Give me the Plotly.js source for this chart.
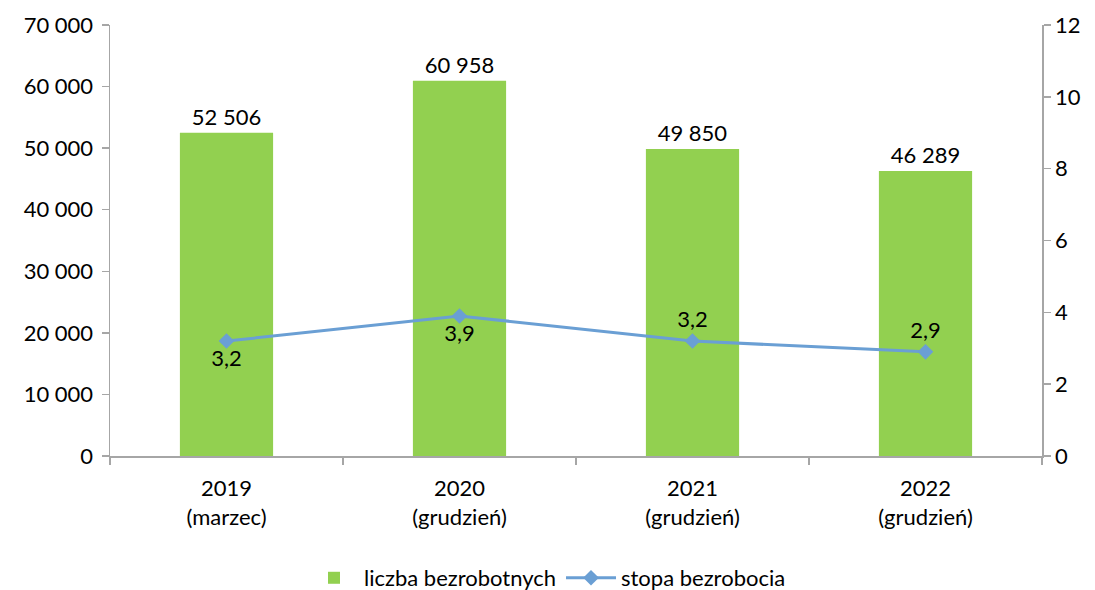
<!DOCTYPE html>
<html>
<head>
<meta charset="utf-8">
<script src="https://cdn.plot.ly/plotly-3.0.1.min.js"></script>
<style>html,body{margin:0;padding:0;background:#fff}#chart{width:1095px;height:590px}</style>
</head>
<body>
<div id="chart"></div>
<script>
const categories = ["2019<br>(marzec)", "2020<br>(grudzień)", "2021<br>(grudzień)", "2022<br>(grudzień)"];
const unemployedCount = [52506, 60958, 49850, 46289];
const unemploymentRate = [3.2, 3.9, 3.2, 2.9];
const rateLabelPositions = ["bottom center", "bottom center", "top center", "top center"];
const seriesNames = ["liczba bezrobotnych", "stopa bezrobocia"];

const FONT = "Lato, 'Open Sans', sans-serif";
const FS = 22;
const axisGray = "#A6A6A6";

const traces = [
  {
    type: "bar",
    x: categories,
    y: unemployedCount,
    name: seriesNames[0],
    marker: {color: "#92D050"},
    text: unemployedCount,
    texttemplate: "%{y:,.0f}",
    textposition: "outside",
    cliponaxis: false,
    textfont: {family: FONT, size: FS, color: "#000"},
    hoverinfo: "skip"
  },
  {
    type: "scatter",
    mode: "lines+markers+text",
    x: categories,
    y: unemploymentRate,
    yaxis: "y2",
    name: seriesNames[1],
    line: {color: "#6A9FD4", width: 3},
    marker: {symbol: "diamond", size: 12, color: "#6A9FD4"},
    text: unemploymentRate,
    texttemplate: "%{y:.1f}",
    textposition: rateLabelPositions,
    textfont: {family: FONT, size: FS, color: "#000"},
    cliponaxis: false,
    hoverinfo: "skip"
  }
];

const layout = {
  width: 1095,
  height: 590,
  margin: {l: 110, r: 53, t: 25, b: 134, autoexpand: false},
  paper_bgcolor: "#fff",
  plot_bgcolor: "#fff",
  separators: ", ",
  font: {family: FONT, size: FS, color: "#000"},
  bargap: 0.6,
  showlegend: true,
  legend: {
    orientation: "h",
    xref: "container",
    x: 0.5, xanchor: "center",
    y: -0.283, yanchor: "middle",
    font: {family: FONT, size: FS, color: "#000"},
    traceorder: "normal",
    itemwidth: 50,
    tracegroupgap: 30
  },
  xaxis: {
    type: "category",
    showline: true, linecolor: axisGray, linewidth: 1.5,
    ticks: "outside", tickcolor: axisGray, ticklen: 7, tickwidth: 1.5,
    tickson: "boundaries",
    tickfont: {family: FONT, size: FS, color: "#000"},
    ticklabelstandoff: 12,
    showgrid: false,
    fixedrange: true
  },
  yaxis: {
    range: [0, 70000],
    dtick: 10000,
    tickformat: ",.0f",
    showline: true, linecolor: axisGray, linewidth: 1.5,
    ticks: "outside", tickcolor: axisGray, ticklen: 7, tickwidth: 1.5,
    showgrid: false, zeroline: false,
    tickfont: {family: FONT, size: FS, color: "#000"},
    ticklabelstandoff: 4
  },
  yaxis2: {
    range: [0, 12],
    dtick: 2,
    overlaying: "y",
    side: "right",
    showline: true, linecolor: axisGray, linewidth: 1.5,
    ticks: "outside", tickcolor: axisGray, ticklen: 7, tickwidth: 1.5,
    showgrid: false, zeroline: false,
    tickfont: {family: FONT, size: FS, color: "#000"}
  }
};

Plotly.newPlot("chart", traces, layout, {displayModeBar: false, staticPlot: true});
</script>
</body>
</html>
